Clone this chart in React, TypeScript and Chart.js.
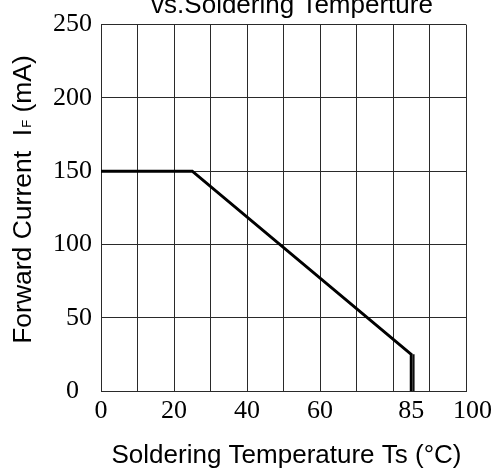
import React, { useEffect, useRef } from "react";
import { Chart, registerables } from "chart.js";

Chart.register(...registerables);

// ---- data ----
const CURVE_X = [0, 25, 85, 85];
const CURVE_Y = [150, 150, 25, 0];
const EDGE_X = [85.7, 85.7];
const EDGE_Y = [25, 0];
const X_GRID_VALUES = [0, 10, 20, 30, 40, 50, 60, 70, 80, 85, 90, 100];
const X_TICK_LABELS = [0, 20, 40, 60, 85, 100];
const Y_TICK_STEP = 50;
const X_MIN = 0;
const X_MAX = 100;
const Y_MIN = 0;
const Y_MAX = 250;
const TITLE = "vs.Soldering Temperture";
const X_TITLE = "Soldering Temperature Ts (°C)";
const Y_TITLE_MAIN = "Forward Current  I";
const Y_TITLE_SUB = "F";
const Y_TITLE_TAIL = " (mA)";

const SANS = '"Liberation Sans", Arial, sans-serif';
const SERIF = '"Liberation Serif", "Times New Roman", serif';
const GRID = "#2a2a2a";

const textPlugin = {
  id: "texts",
  afterDraw(chart: any) {
    const ctx = chart.ctx as CanvasRenderingContext2D;
    ctx.save();
    ctx.fillStyle = "#000";
    ctx.textBaseline = "alphabetic";
    ctx.textAlign = "center";
    ctx.font = `26px ${SANS}`;
    ctx.fillText(TITLE, 292, 13);
    ctx.font = `26px ${SANS}`;
    ctx.fillText(X_TITLE, 286.5, 463);

    // rotated y title with subscript
    ctx.translate(31, 200);
    ctx.rotate(-Math.PI / 2);
    ctx.textAlign = "left";
    const mainFont = `26.5px ${SANS}`;
    const subFont = `13px ${SANS}`;
    ctx.font = mainFont;
    const w1 = ctx.measureText(Y_TITLE_MAIN).width;
    const w3 = ctx.measureText(Y_TITLE_TAIL).width;
    ctx.font = subFont;
    const w2 = ctx.measureText(Y_TITLE_SUB).width;
    let x = -(w1 + w2 + w3) / 2;
    ctx.font = mainFont;
    ctx.fillText(Y_TITLE_MAIN, x, 0);
    x += w1 + 1;
    ctx.font = subFont;
    ctx.fillText(Y_TITLE_SUB, x, 0);
    x += w2;
    ctx.font = mainFont;
    ctx.fillText(Y_TITLE_TAIL, x, 0);
    ctx.restore();
  },
};

export default function App() {
  const ref = useRef<HTMLCanvasElement | null>(null);
  useEffect(() => {
    if (!ref.current) return;
    const chart = new Chart(ref.current, {
      type: "line",
      data: {
        datasets: [
          {
            data: CURVE_X.map((x, i) => ({ x, y: CURVE_Y[i] })),
            borderColor: "#000",
            borderWidth: 3,
            pointRadius: 0,
            tension: 0,
            fill: false,
          },
          {
            data: EDGE_X.map((x, i) => ({ x, y: EDGE_Y[i] })),
            borderColor: "#000",
            borderWidth: 1.5,
            pointRadius: 0,
            tension: 0,
            fill: false,
          },
        ],
      },
      options: {
        responsive: false,
        animation: false,
        layout: { padding: { left: 0, top: 21, right: 34, bottom: 0 } },
        plugins: {
          legend: { display: false },
          tooltip: { enabled: false },
          title: { display: false },
        },
        scales: {
          x: {
            type: "linear",
            min: X_MIN,
            max: X_MAX,
            afterBuildTicks: (scale: any) => {
              scale.ticks = X_GRID_VALUES.map((v) => ({ value: v }));
            },
            afterFit: (scale: any) => {
              scale.height = 77;
            },
            grid: {
              color: (c: any) =>
                c.tick && c.tick.value === 85 ? "rgba(0,0,0,0)" : GRID,
              lineWidth: 1,
              drawTicks: false,
            },
            border: { color: GRID, width: 1 },
            ticks: {
              autoSkip: false,
              maxRotation: 0,
              minRotation: 0,
              padding: 5,
              color: "#000",
              font: { family: SERIF, size: 26 },
              callback: (v: any) => {
                const n = Number(v);
                if (!X_TICK_LABELS.includes(n)) return "";
                return n === 100 ? "  100" : String(n);
              },
            },
          },
          y: {
            type: "linear",
            min: Y_MIN,
            max: Y_MAX,
            afterFit: (scale: any) => {
              scale.width = 101;
            },
            grid: { color: GRID, lineWidth: 1, drawTicks: false },
            border: { color: GRID, width: 1 },
            ticks: {
              stepSize: Y_TICK_STEP,
              padding: 9,
              color: "#000",
              font: { family: SERIF, size: 26 },
              callback: (v: any) => (Number(v) === 0 ? "0  " : String(v)),
            },
          },
        },
      },
      plugins: [textPlugin],
    } as any);
    return () => chart.destroy();
  }, []);
  return (
    <canvas
      ref={ref}
      width={500}
      height={468}
      style={{ position: "absolute", left: 0, top: 0, width: 500, height: 468 }}
    />
  );
}
